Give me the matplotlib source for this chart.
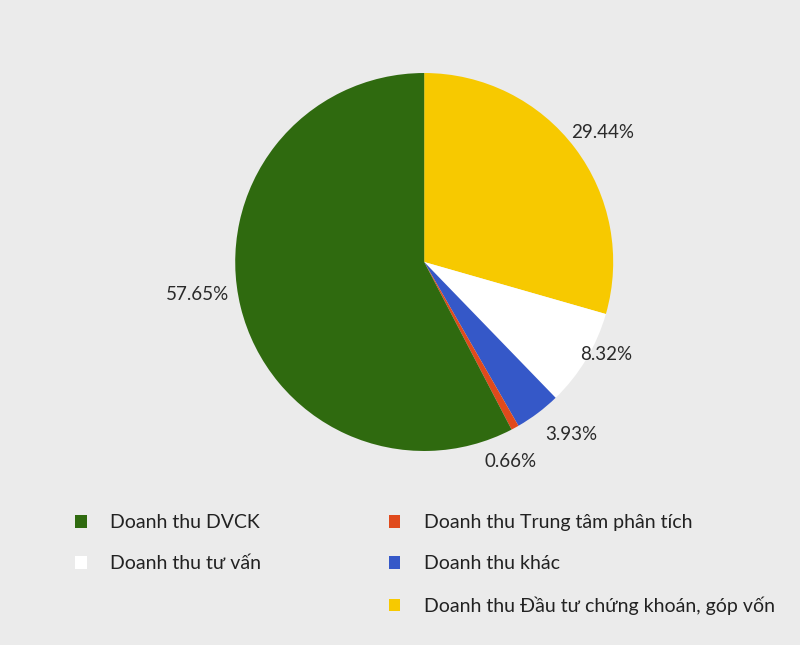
import numpy as np
import matplotlib
matplotlib.use('Agg')
import matplotlib.pyplot as plt
from matplotlib.patches import Patch

plt.rcParams['font.family'] = ['Lato', 'DejaVu Sans']

# slices in clockwise order, starting at 12 o'clock
labels = ['Doanh thu Đầu tư chứng khoán, góp vốn', 'Doanh thu tư vấn', 'Doanh thu khác',
          'Doanh thu Trung tâm phân tích', 'Doanh thu DVCK']
values = [29.44, 8.32, 3.93, 0.66, 57.65]
colors = ['#f7c900', '#ffffff', '#3558c8', '#e04a1c', '#2f6a0f']
# percentage label placement: radial distance and angle nudge (deg)
label_r = [1.17, 1.08, 1.20, 1.15, 1.21]
label_da = [-1, 4, 3.5, -5.4, -5.5]

bg = '#ebebeb'
fig = plt.figure(figsize=(8, 6.45), dpi=100, facecolor=bg)
ax = fig.add_axes([0.294, 0.3008, 0.4725, 0.586])
ax.set_facecolor(bg)

wedges, _ = ax.pie(values, colors=colors, startangle=90, counterclock=False,
                   wedgeprops=dict(linewidth=0))
for w, v, r, da in zip(wedges, values, label_r, label_da):
    mid = np.deg2rad((w.theta1 + w.theta2) / 2 + da)
    ax.text(r * np.cos(mid), r * np.sin(mid), f'{v:.2f}%', ha='center', va='center',
            fontsize=13.5, color='#2a2a2a')
ax.set_xlim(-1, 1)
ax.set_ylim(-1, 1)
ax.set_aspect('equal')

# legend: two columns
col1 = [4, 1]
col2 = [3, 2, 0]
for idx, x in [(col1, 0.094), (col2, 0.486)]:
    handles = [Patch(facecolor=colors[i], edgecolor='none') for i in idx]
    fig.legend(handles, [labels[i] for i in idx], loc='upper left',
               bbox_to_anchor=(x, 0.2026), bbox_transform=fig.transFigure,
               frameon=False, fontsize=14, handlelength=0.6, handleheight=0.6,
               handletextpad=1.2, labelspacing=1.23, labelcolor='#222222',
               borderpad=0, borderaxespad=0)

fig.savefig('out.png', dpi=100, facecolor=bg)
